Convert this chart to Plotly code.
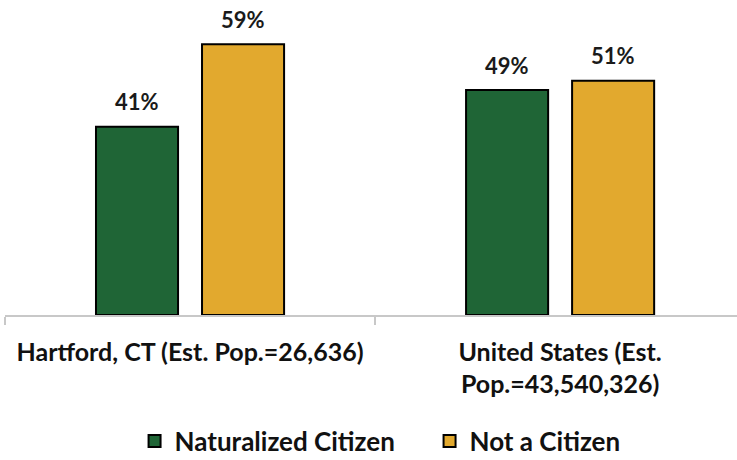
import plotly.graph_objects as go

categories = ["Hartford, CT (Est. Pop.=26,636)", "United States (Est.<br>Pop.=43,540,326)"]
naturalized = [41, 49]
not_citizen = [59, 51]
series_names = ["Naturalized Citizen", "Not a Citizen"]
colors = ["#1F6536", "#E2A92E"]

FONT = "Lato"
BARGAP = 0.427
BARGROUPGAP = 0.226

fig = go.Figure()
for name, vals, col in zip(series_names, [naturalized, not_citizen], colors):
    fig.add_trace(go.Bar(
        x=categories, y=vals, name=name,
        marker=dict(color=col, line=dict(color="#000000", width=2)),
    ))

# value labels above bars, placed via category index + group offset
slot = (1 - BARGAP) / len(series_names)
for si, vals in enumerate([naturalized, not_citizen]):
    off = -(1 - BARGAP) / 2 + slot * (si + 0.5)
    for ci, v in enumerate(vals):
        fig.add_annotation(
            x=ci + off, y=v, xref="x", yref="y", text=f"{v}%", showarrow=False,
            yanchor="middle", yshift=25,
            font=dict(family=FONT, size=22, color="#1a1a1a", weight="bold"),
        )

fig.update_layout(
    width=737, height=460,
    margin=dict(l=5, r=0, t=12, b=145, autoexpand=False),
    paper_bgcolor="white", plot_bgcolor="white",
    barmode="group", bargap=BARGAP, bargroupgap=BARGROUPGAP,
    font=dict(family=FONT, size=25, color="#111111"),
    showlegend=True,
    legend=dict(orientation="h", x=0.58, xanchor="center", y=-0.416, yanchor="middle",
                font=dict(family=FONT, size=26, color="#111111", weight="bold"),
                traceorder="normal", itemwidth=30, entrywidth=250),
)
fig.update_xaxes(
    type="category", range=[-0.5, 1.478], automargin=False,
    showline=True, linecolor="#C8C8C8", linewidth=1.5,
    ticks="outside", tickson="boundaries", ticklen=8, tickcolor="#C8C8C8", tickwidth=1.5,
    ticklabelstandoff=14,
    tickfont=dict(family=FONT, size=25, color="#111111", weight="bold"),
    showgrid=False,
)
fig.update_yaxes(range=[0, 66], visible=False, showgrid=False, automargin=False)

fig.write_html("out.html", config={"displayModeBar": False},
               post_script="document.body.style.margin='0';")
